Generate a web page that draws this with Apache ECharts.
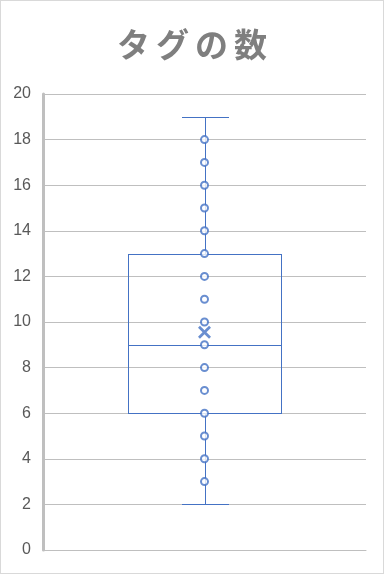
<!DOCTYPE html>
<html><head><meta charset="utf-8">
<script src="https://cdn.jsdelivr.net/npm/echarts@6/dist/echarts.min.js"></script>
<style>
html,body{margin:0;padding:0;background:#fff;}
#c{width:384px;height:574px;box-sizing:border-box;border:1px solid #d9d9d9;}
</style></head>
<body><div id="c"></div>
<script>
const titleText = 'タグの数';
const categories = [''];
// [min, Q1, median, Q3, max]
const boxStats = [2, 6, 9, 13, 19];
const meanValue = 9.55;
const pointValues = [3, 4, 5, 6, 7, 8, 9, 10, 11, 12, 13, 14, 15, 16, 17, 18];
const yTicks = [0, 2, 4, 6, 8, 10, 12, 14, 16, 18, 20];

const blue = '#4472C4';
const titleRich = Array.from(titleText).map(ch => '{c|' + ch + '}').join('');
const chart = echarts.init(document.getElementById('c'), null, {renderer: 'canvas'});
chart.setOption({
  animation: false,
  title: {
    text: titleRich, left: 'center', top: 22,
    textStyle: {
      fontFamily: 'Noto Sans CJK JP', fontWeight: 'bold', fontSize: 33, color: '#7f7f7f',
      rich: {c: {fontFamily: 'Noto Sans CJK JP', fontWeight: 'bold', fontSize: 33, color: '#7f7f7f', width: 39, align: 'center'}}
    }
  },
  grid: {left: 42, right: 17, top: 93, bottom: 23, containLabel: false},
  xAxis: {
    type: 'category', data: categories,
    axisLine: {show: true, lineStyle: {color: '#bfbfbf', width: 1}},
    axisTick: {show: false}, axisLabel: {show: false}, splitLine: {show: false}
  },
  yAxis: {
    type: 'value', min: yTicks[0], max: yTicks[yTicks.length - 1], interval: 2,
    axisLine: {show: true, lineStyle: {color: '#bfbfbf', width: 3}},
    axisTick: {show: false},
    axisLabel: {color: '#595959', fontSize: 16, fontFamily: 'Liberation Sans', margin: 12},
    splitLine: {lineStyle: {color: '#bfbfbf', width: 1}}
  },
  series: [
    {
      type: 'custom',
      data: [[0].concat(boxStats)],
      itemStyle: {color: blue},
      renderItem: function (params, api) {
        const band = api.size([1, 0])[0];
        const bw = Math.round(band * 0.475), cw = Math.round(band * 0.142);
        const yv = i => Math.round(api.coord([api.value(0), api.value(i)])[1]);
        const yMin = yv(1), yQ1 = yv(2), yMed = yv(3), yQ3 = yv(4), yMax = yv(5);
        const cx = Math.round(api.coord([api.value(0), api.value(3)])[0]);
        const hl = (x1, x2, y) => ({type: 'rect', shape: {x: x1, y: y, width: x2 - x1 + 1, height: 1}, style: {fill: blue, stroke: 'none', lineWidth: 0}});
        const vl = (x, y1, y2) => ({type: 'rect', shape: {x: x, y: Math.min(y1, y2), width: 1, height: Math.abs(y2 - y1) + 1}, style: {fill: blue, stroke: 'none', lineWidth: 0}});
        const bx1 = cx - Math.round(bw / 2), bx2 = bx1 + bw;
        const cx1 = cx - Math.round(cw / 2), cx2 = cx1 + cw;
        return {
          type: 'group',
          children: [
            hl(bx1, bx2, yQ3), hl(bx1, bx2, yQ1), vl(bx1, yQ3, yQ1), vl(bx2, yQ3, yQ1),
            hl(bx1, bx2, yMed),
            vl(cx, yMax, yQ3), vl(cx, yQ1, yMin),
            hl(cx1, cx2, yMax), hl(cx1, cx2, yMin)
          ]
        };
      },
      z: 2
    },
    {
      type: 'scatter',
      data: pointValues.map(v => [0, v]),
      symbol: 'emptyCircle', symbolSize: 7,
      itemStyle: {color: blue, borderColor: blue, borderWidth: 1.4},
      z: 3
    },
    {
      type: 'scatter',
      data: [[0, meanValue]],
      symbol: 'path://M0,1.5L1.5,0L5,3.5L8.5,0L10,1.5L6.5,5L10,8.5L8.5,10L5,6.5L1.5,10L0,8.5L3.5,5Z',
      symbolSize: 13,
      itemStyle: {color: blue},
      z: 4
    }
  ]
});
</script></body></html>
